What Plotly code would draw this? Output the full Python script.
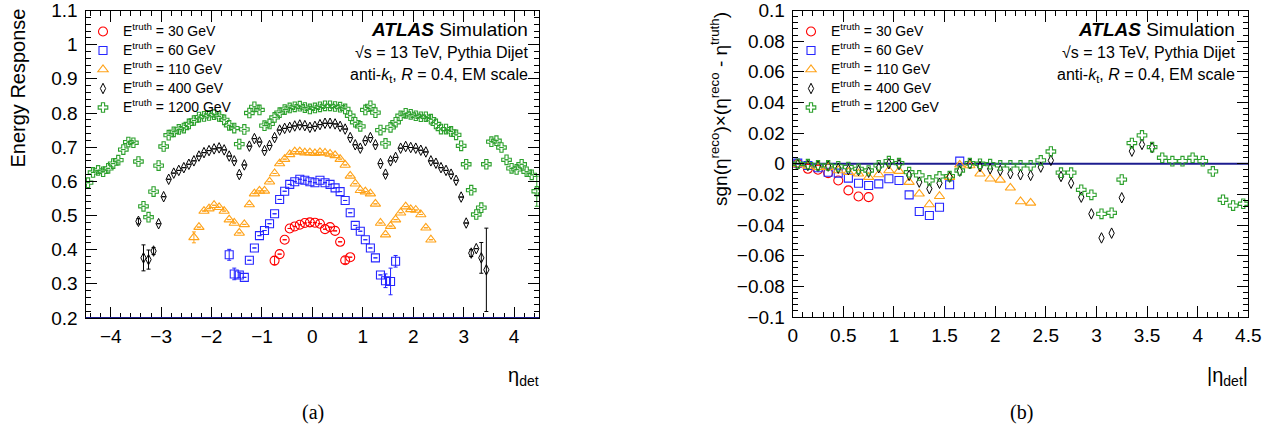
import plotly.graph_objects as go

W, H = 1276, 433

# ---------------- panel (a): energy response vs eta_det ----------------
eta_a_30 = [-0.75, -0.65, -0.55, -0.45, -0.35, -0.25, -0.15, -0.05,
            0.05, 0.15, 0.25, 0.35, 0.45, 0.55, 0.65, 0.75]
resp_30 = [0.368, 0.387, 0.429, 0.462, 0.468, 0.473, 0.478, 0.480,
           0.479, 0.476, 0.460, 0.466, 0.455, 0.423, 0.369, 0.378]
err_30 = [0.012, None, None, None, None, None, None, None,
          None, None, None, None, None, None, 0.010, None]

eta_a_60 = [-1.65, -1.55, -1.45, -1.35, -1.25, -1.15, -1.05, -0.95, -0.85, -0.75,
            -0.65, -0.55, -0.45, -0.35, -0.25, -0.15, -0.05,
            0.05, 0.15, 0.25, 0.35, 0.45, 0.55, 0.65, 0.75, 0.85, 0.95,
            1.05, 1.15, 1.25, 1.35, 1.45, 1.55, 1.65]
resp_60 = [0.385, 0.329, 0.326, 0.319, 0.369, 0.405, 0.441, 0.456, 0.476, 0.505,
           0.547, 0.571, 0.591, 0.599, 0.606, 0.603, 0.599,
           0.596, 0.603, 0.596, 0.591, 0.581, 0.570, 0.544, 0.508, 0.471, 0.454,
           0.429, 0.405, 0.376, 0.326, 0.309, 0.307, 0.366]
err_60 = [0.016, 0.017, 0.008, None, None, None, None, None, None, None,
          None, None, None, None, None, None, None,
          None, None, None, None, None, None, None, None, None, None,
          None, None, None, None, 0.020, 0.039, 0.017]

eta_a_110 = [-2.35, -2.25, -2.15, -2.05, -1.95, -1.85, -1.75, -1.65, -1.55, -1.45,
             -1.35, -1.25, -1.15, -1.05, -0.95, -0.85, -0.75, -0.65, -0.55, -0.45,
             -0.35, -0.25, -0.15, -0.05,
             0.05, 0.15, 0.25, 0.35, 0.45, 0.55, 0.65, 0.75, 0.85, 0.95,
             1.05, 1.15, 1.25, 1.35, 1.45, 1.55, 1.65, 1.75, 1.85, 1.95,
             2.05, 2.15, 2.25, 2.35]
resp_110 = [0.436, 0.466, 0.513, 0.520, 0.530, 0.524, 0.513, 0.488, 0.478, 0.449,
            0.474, 0.532, 0.564, 0.572, 0.572, 0.599, 0.623, 0.652, 0.665, 0.679,
            0.687, 0.687, 0.684, 0.684,
            0.682, 0.685, 0.683, 0.680, 0.676, 0.665, 0.648, 0.616, 0.593, 0.574,
            0.570, 0.564, 0.534, 0.478, 0.444, 0.469, 0.488, 0.508, 0.526, 0.518,
            0.516, 0.503, 0.464, 0.429]
err_110 = [0.016] + [None] * 47

eta_a_400 = [-3.45, -3.35, -3.25, -3.15, -3.05, -2.95, -2.85, -2.75, -2.65, -2.55,
             -2.45, -2.35, -2.25, -2.15, -2.05, -1.95, -1.85, -1.75, -1.65, -1.55,
             -1.45, -1.35, -1.25, -1.15, -1.05, -0.95, -0.85, -0.75, -0.65, -0.55,
             -0.45, -0.35, -0.25, -0.15, -0.05,
             0.05, 0.15, 0.25, 0.35, 0.45, 0.55, 0.65, 0.75, 0.85, 0.95,
             1.05, 1.15, 1.25, 1.35, 1.45, 1.55, 1.65, 1.75, 1.85, 1.95,
             2.05, 2.15, 2.25, 2.35, 2.45, 2.55, 2.65, 2.75, 2.85, 2.95,
             3.05, 3.15, 3.25, 3.35, 3.45]
resp_400 = [0.483, 0.376, 0.371, 0.396, 0.476, 0.555, 0.606, 0.624, 0.632, 0.640,
            0.650, 0.660, 0.674, 0.684, 0.690, 0.695, 0.698, 0.692, 0.674, 0.660,
            0.620, 0.648, 0.703, 0.725, 0.715, 0.690, 0.705, 0.728, 0.750, 0.755,
            0.758, 0.762, 0.765, 0.763, 0.758,
            0.761, 0.766, 0.770, 0.770, 0.768, 0.761, 0.753, 0.728, 0.707, 0.697,
            0.719, 0.728, 0.707, 0.652, 0.621, 0.660, 0.670, 0.697, 0.702, 0.699,
            0.697, 0.691, 0.686, 0.660, 0.653, 0.640, 0.632, 0.621, 0.603, 0.554,
            0.478, 0.390, 0.403, 0.376, 0.341]
err_400 = [0.008, 0.038, 0.028, 0.010] + [None] * 62 + [0.010, None, 0.045, 0.122]

eta_a_1200 = [-4.45, -4.35, -4.25, -4.15, -4.05, -3.95, -3.85, -3.75, -3.65, -3.55,
              -3.45, -3.35, -3.25, -3.15, -3.05, -2.95, -2.85, -2.75, -2.65, -2.55,
              -2.45, -2.35, -2.25, -2.15, -2.05, -1.95, -1.85, -1.75, -1.65, -1.55,
              -1.45, -1.35, -1.25, -1.15, -1.05, -0.95, -0.85, -0.75, -0.65, -0.55,
              -0.45, -0.35, -0.25, -0.15, -0.05,
              0.05, 0.15, 0.25, 0.35, 0.45, 0.55, 0.65, 0.75, 0.85, 0.95,
              1.05, 1.15, 1.25, 1.35, 1.45, 1.55, 1.65, 1.75, 1.85, 1.95,
              2.05, 2.15, 2.25, 2.35, 2.45, 2.55, 2.65, 2.75, 2.85, 2.95,
              3.05, 3.15, 3.25, 3.35, 3.45, 3.55, 3.65, 3.75, 3.85, 3.95,
              4.05, 4.15, 4.25, 4.35, 4.45]
resp_1200 = [0.596, 0.626, 0.632, 0.628, 0.638, 0.652, 0.662, 0.693, 0.715, 0.713,
             0.658, 0.527, 0.495, 0.570, 0.646, 0.702, 0.735, 0.745, 0.752, 0.756,
             0.768, 0.778, 0.788, 0.790, 0.793, 0.795, 0.790, 0.780, 0.764, 0.756,
             0.709, 0.752, 0.800, 0.818, 0.809, 0.763, 0.768, 0.787, 0.801, 0.810,
             0.815, 0.818, 0.820, 0.816, 0.812,
             0.815, 0.818, 0.821, 0.821, 0.819, 0.817, 0.812, 0.792, 0.773, 0.761,
             0.809, 0.821, 0.801, 0.750, 0.711, 0.758, 0.773, 0.792, 0.799, 0.796,
             0.792, 0.789, 0.789, 0.782, 0.768, 0.753, 0.753, 0.746, 0.736, 0.704,
             0.650, 0.574, 0.503, 0.523, 0.650, 0.716, 0.719, 0.699, 0.663, 0.638,
             0.635, 0.650, 0.628, 0.619, 0.571]
err_1200 = [None] * 89 + [0.044]

# ---------------- panel (b): eta bias vs |eta_det| ----------------
abseta_30 = [0.05, 0.15, 0.25, 0.35, 0.45, 0.55, 0.65, 0.75]
bias_30 = [0.0000, -0.0033, -0.0039, -0.0061, -0.0109, -0.0174, -0.0214, -0.0218]

abseta_60 = [0.05, 0.15, 0.25, 0.35, 0.45, 0.55, 0.65, 0.75, 0.85, 0.95,
             1.05, 1.15, 1.25, 1.35, 1.45, 1.55, 1.65]
bias_60 = [0.0004, -0.0011, -0.0026, -0.0055, -0.0061, -0.0094, -0.0127, -0.0142, -0.0131, -0.0098,
           -0.0109, -0.0203, -0.0312, -0.0338, -0.0284, -0.0137, 0.0017]

abseta_110 = [0.05, 0.15, 0.25, 0.35, 0.45, 0.55, 0.65, 0.75, 0.85, 0.95,
              1.05, 1.15, 1.25, 1.35, 1.45, 1.55, 1.65, 1.75, 1.85, 1.95,
              2.05, 2.15, 2.25, 2.35]
bias_110 = [-0.0005, -0.0015, -0.0022, -0.0022, -0.0044, -0.0055, -0.0065, -0.0087, -0.0070, -0.0044,
            -0.0048, -0.0120, -0.0196, -0.0266, -0.0212, -0.0087, -0.0007, -0.0011, -0.0065, -0.0098,
            -0.0105, -0.0157, -0.0246, -0.0255]

abseta_400 = [0.05, 0.15, 0.25, 0.35, 0.45, 0.55, 0.65, 0.75, 0.85, 0.95,
              1.05, 1.15, 1.25, 1.35, 1.45, 1.55, 1.65, 1.75, 1.85, 1.95,
              2.05, 2.15, 2.25, 2.35, 2.45, 2.55, 2.65, 2.75, 2.85, 2.95,
              3.05, 3.15, 3.25, 3.35, 3.45, 3.55]
bias_400 = [-0.0005, -0.0011, -0.0015, -0.0015, -0.0029, -0.0039, -0.0044, -0.0055, -0.0026, 0.0000,
            -0.0005, -0.0076, -0.0120, -0.0163, -0.0127, -0.0087, -0.0048, 0.0000, -0.0018, -0.0033,
            -0.0044, -0.0065, -0.0072, -0.0076, -0.0022, 0.0022, -0.0083, -0.0127, -0.0218, -0.0327,
            -0.0484, -0.0453, -0.0222, 0.0082, 0.0126, 0.0105]

abseta_1200 = [0.05, 0.15, 0.25, 0.35, 0.45, 0.55, 0.65, 0.75, 0.85, 0.95,
               1.05, 1.15, 1.25, 1.35, 1.45, 1.55, 1.65, 1.75, 1.85, 1.95,
               2.05, 2.15, 2.25, 2.35, 2.45, 2.55, 2.65, 2.75, 2.85, 2.95,
               3.05, 3.15, 3.25, 3.35, 3.45, 3.55, 3.65, 3.75, 3.85, 3.95,
               4.05, 4.15, 4.25, 4.35, 4.45]
bias_1200 = [0.0000, -0.0003, -0.0011, -0.0011, -0.0017, -0.0022, -0.0033, -0.0044, -0.0011, 0.0017,
             0.0004, -0.0055, -0.0076, -0.0109, -0.0083, -0.0081, -0.0044, 0.0004, 0.0000, -0.0003,
             -0.0011, -0.0011, -0.0011, -0.0011, 0.0022, 0.0080, -0.0058, -0.0058, -0.0170, -0.0203,
             -0.0327, -0.0320, -0.0103, 0.0135, 0.0185, 0.0109, 0.0039, 0.0017, 0.0017, 0.0039,
             0.0017, -0.0050, -0.0235, -0.0273, -0.0261]

# ---------------- labels / ticks ----------------
energies = ["30", "60", "110", "400", "1200"]
series_names = ['<span style="font-size:14px">E<sup>truth</sup> = %s GeV</span>' % e
                for e in energies]
yticks_a = [0.2, 0.3, 0.4, 0.5, 0.6, 0.7, 0.8, 0.9, 1.0, 1.1]
yticklabels_a = ["0.2", "0.3", "0.4", "0.5", "0.6", "0.7", "0.8", "0.9", "1", "1.1"]
xticks_a = [-4, -3, -2, -1, 0, 1, 2, 3, 4]
xticklabels_a = ["\u22124", "\u22123", "\u22122", "\u22121", "0", "1", "2", "3", "4"]
xticks_b = [0, 0.5, 1, 1.5, 2, 2.5, 3, 3.5, 4, 4.5]
xticklabels_b = ["0", "0.5", "1", "1.5", "2", "2.5", "3", "3.5", "4", "4.5"]
yticks_b = [-0.1, -0.08, -0.06, -0.04, -0.02, 0, 0.02, 0.04, 0.06, 0.08, 0.1]
yticklabels_b = ["\u22120.1", "\u22120.08", "\u22120.06", "\u22120.04", "\u22120.02", "0",
                 "0.02", "0.04", "0.06", "0.08", "0.1"]

colors = ["#ff0000", "#2626ff", "#ffa31a", "#000000", "#2ca02c"]
symbols = ["circle-open", "square-open", "triangle-up-open", "diamond-tall-open", "cross-open"]
sizes = [9, 8, 9, 7.5, 8]
line_widths = [1.1, 1.1, 1.1, 1.0, 1.1]

FONT = "Liberation Sans, Arial, Helvetica, sans-serif"

fig = go.Figure()

panel_a = [(eta_a_30, resp_30, err_30), (eta_a_60, resp_60, err_60),
           (eta_a_110, resp_110, err_110), (eta_a_400, resp_400, err_400),
           (eta_a_1200, resp_1200, err_1200)]
panel_b = [(abseta_30, bias_30), (abseta_60, bias_60), (abseta_110, bias_110),
           (abseta_400, bias_400), (abseta_1200, bias_1200)]

for i, (xs, ys, es) in enumerate(panel_a):
    fig.add_trace(go.Scatter(
        x=xs, y=ys, mode="markers", name=series_names[i],
        marker=dict(symbol=symbols[i], size=sizes[i], color=colors[i],
                    line=dict(width=line_widths[i], color=colors[i])),
        error_y=dict(type="data", array=es, visible=True, color=colors[i],
                     thickness=1, width=2),
        xaxis="x", yaxis="y", legend="legend", legendrank=i + 1,
    ))

for i, (xs, ys) in enumerate(panel_b):
    fig.add_trace(go.Scatter(
        x=xs, y=ys, mode="markers", name=series_names[i],
        marker=dict(symbol=symbols[i], size=sizes[i], color=colors[i],
                    line=dict(width=line_widths[i], color=colors[i])),
        xaxis="x2", yaxis="y2", legend="legend2", legendrank=i + 1,
    ))

axis_common = dict(
    showline=True, linecolor="black", linewidth=1, mirror="allticks",
    ticks="inside", ticklen=11, tickwidth=1, tickcolor="black",
    showgrid=False, zeroline=False, automargin=False, ticklabeloverflow="allow",
    tickfont=dict(family=FONT, size=19, color="black"),
)


def px_x(p):
    return p / W


def px_y(p):
    return 1 - p / H


fig.update_layout(
    template="none",
    width=W, height=H,
    margin=dict(l=0, r=0, t=0, b=0, autoexpand=False),
    paper_bgcolor="white", plot_bgcolor="white",
    showlegend=True,
    xaxis=dict(domain=[px_x(85.5), px_x(539.3)], range=[-4.5, 4.5], anchor="y",
               tickvals=xticks_a, ticktext=xticklabels_a, ticklabelstandoff=1,
               minor=dict(dtick=0.2, ticklen=5, ticks="inside", tickcolor="black"),
               **axis_common),
    yaxis=dict(domain=[px_y(318), px_y(10.5)], range=[0.2, 1.1000001], anchor="x",
               tickvals=yticks_a, ticktext=yticklabels_a, ticklabelstandoff=3,
               minor=dict(dtick=0.02, ticklen=5, ticks="inside", tickcolor="black"),
               **axis_common),
    xaxis2=dict(domain=[px_x(792.7), px_x(1248.3)], range=[0, 4.5000001], anchor="y2",
                tickvals=xticks_b, ticktext=xticklabels_b, ticklabelstandoff=1,
                minor=dict(dtick=0.1, ticklen=5, ticks="inside", tickcolor="black"),
                **axis_common),
    yaxis2=dict(domain=[px_y(317), px_y(10.5)], range=[-0.1000001, 0.1000001], anchor="x2",
                tickvals=yticks_b, ticktext=yticklabels_b, ticklabelstandoff=3,
                minor=dict(dtick=0.004, ticklen=5, ticks="inside", tickcolor="black"),
                **axis_common),
    legend=dict(x=px_x(83), y=px_y(17), xanchor="left", yanchor="top",
                bgcolor="rgba(0,0,0,0)", font=dict(family=FONT, size=12, color="black"),
                itemwidth=30, tracegroupgap=0),
    legend2=dict(x=px_x(791), y=px_y(17), xanchor="left", yanchor="top",
                 bgcolor="rgba(0,0,0,0)", font=dict(family=FONT, size=12, color="black"),
                 itemwidth=30, tracegroupgap=0),
)

navy = "#1c1c8f"
fig.add_shape(type="line", xref="x", yref="y", x0=-4.5, x1=4.5, y0=0.2, y1=0.2,
              line=dict(color=navy, width=2))
fig.add_shape(type="line", xref="x2", yref="y2", x0=0, x1=4.5, y0=0, y1=0,
              line=dict(color=navy, width=2), layer="below")

ann = []
for xr in (530, 1237):
    ann.append(dict(x=px_x(xr), y=px_y(29), text="<b><i>ATLAS</i></b> Simulation",
                    font=dict(family=FONT, size=19, color="black")))
    ann.append(dict(x=px_x(xr), y=px_y(53), text="\u221as = 13 TeV, Pythia Dijet",
                    font=dict(family=FONT, size=16, color="black")))
    ann.append(dict(x=px_x(xr), y=px_y(76),
                    text="anti-<i>k</i><sub>t</sub>, <i>R</i> = 0.4, EM scale",
                    font=dict(family=FONT, size=16, color="black")))
for a in ann:
    a.update(xref="paper", yref="paper", xanchor="right", yanchor="middle", showarrow=False)

ann += [
    dict(x=px_x(17), y=px_y(7), text="Energy Response", textangle=-90,
         xanchor="center", yanchor="top", font=dict(family=FONT, size=20, color="black")),
    dict(x=px_x(719), y=px_y(10),
         text="sgn(\u03b7<sup>reco</sup>)\u00d7(\u03b7<sup>reco</sup> - \u03b7<sup>truth</sup>)",
         textangle=-90, xanchor="center", yanchor="top",
         font=dict(family=FONT, size=19, color="black")),
    dict(x=px_x(541), y=px_y(376), text="\u03b7<sub>det</sub>", xanchor="right",
         yanchor="middle", font=dict(family=FONT, size=20, color="black")),
    dict(x=px_x(1250), y=px_y(376), text="|\u03b7<sub>det</sub>|", xanchor="right",
         yanchor="middle", font=dict(family=FONT, size=20, color="black")),
    dict(x=px_x(313), y=px_y(412), text="(a)", xanchor="center", yanchor="middle",
         font=dict(family="Liberation Serif, DejaVu Serif, serif", size=20, color="black")),
    dict(x=px_x(1021), y=px_y(412), text="(b)", xanchor="center", yanchor="middle",
         font=dict(family="Liberation Serif, DejaVu Serif, serif", size=20, color="black")),
]
for a in ann[6:]:
    a.update(xref="paper", yref="paper", showarrow=False)

fig.update_layout(annotations=ann)

fig.write_html("out.html", config={"displayModeBar": False},
               post_script="document.body.style.margin='0';document.body.style.overflow='hidden';")
